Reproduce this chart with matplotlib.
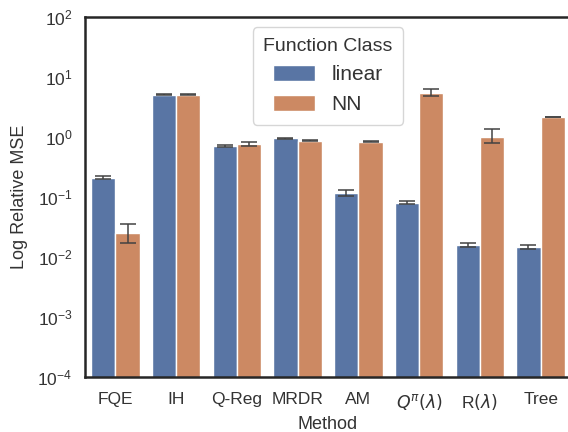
import matplotlib
matplotlib.use("Agg")
import matplotlib.pyplot as plt
import numpy as np

methods = ["FQE", "IH", "Q-Reg", "MRDR", "AM", r"$Q^{\pi}(\lambda)$", r"R$(\lambda)$", "Tree"]
classes = ["linear", "NN"]

linear_mean = [0.21, 5.07, 0.71, 0.95, 0.115, 0.079, 0.0158, 0.0147]
linear_lo = [0.20, 5.02, 0.69, 0.94, 0.105, 0.075, 0.0146, 0.0138]
linear_hi = [0.22, 5.12, 0.73, 0.96, 0.130, 0.085, 0.0170, 0.0158]

nn_mean = [0.025, 5.07, 0.75, 0.87, 0.835, 5.47, 1.01, 2.15]
nn_lo = [0.017, 5.02, 0.70, 0.85, 0.82, 4.9, 0.79, 2.12]
nn_hi = [0.035, 5.12, 0.81, 0.89, 0.85, 6.3, 1.37, 2.18]

colors = ["#5975a4", "#cc8963"]
txt = "#333333"

plt.rcParams["font.family"] = ["Liberation Sans", "DejaVu Sans"]
fig = plt.figure(figsize=(5.68, 4.32), dpi=100)
ax = fig.add_axes([85/568, (432-377)/432, 486/568, (377-17)/432])

x = np.arange(len(methods))
w = 0.4
for i, (m, lo, hi) in enumerate([(linear_mean, linear_lo, linear_hi), (nn_mean, nn_lo, nn_hi)]):
    m = np.array(m); lo = np.array(lo); hi = np.array(hi)
    pos = x + (i - 0.5) * w
    ax.bar(pos, m, width=w, color=colors[i], edgecolor="white", linewidth=1, label=classes[i], zorder=2)
    ax.errorbar(pos, m, yerr=[m - lo, hi - m], fmt="none", ecolor="#424242",
                elinewidth=1.1, capsize=6, capthick=1.1, zorder=3)

ax.set_yscale("log")
ax.set_ylim(1e-4, 1e2)
ax.set_xlim(-0.5, len(methods) - 0.5)
ax.set_xticks(x)
ax.set_xticklabels(methods, fontsize=12.5)
ax.tick_params(axis="y", labelsize=12.5, which="both", length=0, pad=9)
ax.tick_params(axis="x", length=0, pad=11)
ax.minorticks_off()
ax.set_yticks([1e-4, 1e-3, 1e-2, 1e-1, 1e0, 1e1, 1e2])
for s in ax.spines.values():
    s.set_color("#262626")
    s.set_linewidth(1.8)
for lab in ax.get_xticklabels() + ax.get_yticklabels():
    lab.set_color(txt)
ax.set_ylabel("Log Relative MSE", fontsize=13, color=txt, labelpad=7)
ax.set_xlabel("Method", fontsize=13, color=txt, labelpad=3)

leg = ax.legend(title="Function Class", loc="upper center", fontsize=15, title_fontsize=14,
                frameon=True, handlelength=2.0, handleheight=0.8, borderpad=0.5)
leg.get_frame().set_edgecolor("#cccccc")
leg.get_title().set_color(txt)
for t in leg.get_texts():
    t.set_color(txt)

fig.savefig("out.png", dpi=100)
